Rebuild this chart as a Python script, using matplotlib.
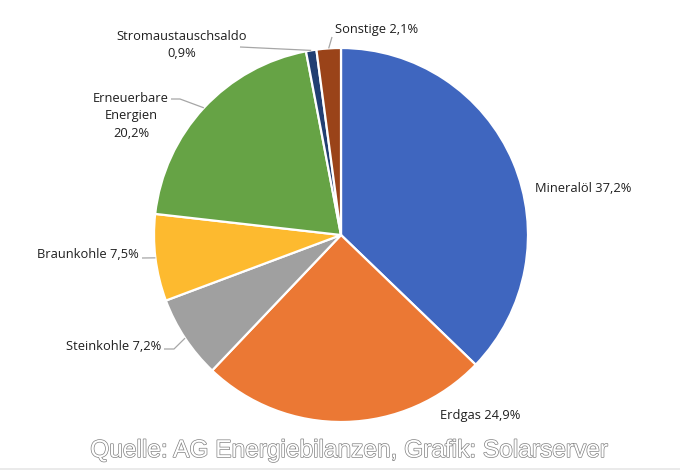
import matplotlib
matplotlib.use("Agg")
import matplotlib.pyplot as plt
import matplotlib.patheffects as pe
import numpy as np

categories = ["Mineralöl", "Erdgas", "Steinkohle", "Braunkohle",
              "Erneuerbare\nEnergien", "Stromaustauschsaldo", "Sonstige"]
values = [37.2, 24.9, 7.2, 7.5, 20.2, 0.9, 2.1]
labels = ["Mineralöl 37,2%", "Erdgas 24,9%", "Steinkohle 7,2%", "Braunkohle 7,5%",
          "Erneuerbare\nEnergien\n20,2%", "Stromaustauschsaldo\n0,9%", "Sonstige 2,1%"]
colors = ["#3F66BF", "#EB7834", "#A0A0A0", "#FDBA2F", "#66A345", "#223F72", "#9A4319"]

W, H = 680, 471
fig = plt.figure(figsize=(W / 100, H / 100), dpi=100)
ax = fig.add_axes([0, 0, 1, 1])

def Y(py):
    return H - py

cx, cy, r = 341, 235, 187
wedges, _ = ax.pie(values, colors=colors, startangle=90, counterclock=False,
                   center=(cx, Y(cy)), radius=r, frame=True,
                   wedgeprops=dict(edgecolor="white", linewidth=1.6))
ax.set_xlim(0, W)
ax.set_ylim(0, H)
ax.set_aspect("equal")
ax.axis("off")

font = ["Open Sans", "DejaVu Sans"]
fs = 9.3
tc = "#1f1f1f"
lc = "#A6A6A6"

layout = [
    dict(xy=(535, 189), ha="left", path=None),
    dict(xy=(440, 415), ha="left", path=None),
    dict(xy=(161, 347), ha="right", path=[(174, 349), (164, 349)]),
    dict(xy=(139, 255), ha="right", path=[(142, 258)]),
    dict(xy=(131, 116), ha="center", path=[(180, 99), (171, 99)]),
    dict(xy=(182, 45), ha="center", path=[(240, 47)]),
    dict(xy=(335, 30), ha="left", path=[(332, 37)]),
]

cum = np.cumsum([0] + values)
total = sum(values)
for i, (lab, lay) in enumerate(zip(labels, layout)):
    ax.text(lay["xy"][0], Y(lay["xy"][1]), lab, ha=lay["ha"], va="center",
            fontsize=fs, color=tc, family=font, linespacing=1.45)
    if lay["path"]:
        mid = (cum[i] + cum[i + 1]) / 2 / total
        ang = np.deg2rad(90 - 360 * mid)
        px = cx + r * np.cos(ang)
        py = cy - r * np.sin(ang)
        pts = [(px, py)] + lay["path"]
        ax.plot([p[0] for p in pts], [Y(p[1]) for p in pts], color=lc, lw=0.9,
                solid_capstyle="butt", zorder=1)

ax.text(348, Y(451), "Quelle: AG Energiebilanzen, Grafik: Solarserver",
        ha="center", va="center", fontsize=17.6, color="white",
        family=["Liberation Sans", "DejaVu Sans"],
        path_effects=[pe.Stroke(linewidth=1.0, foreground="#808080"), pe.Normal()])

ax.plot([0, W], [Y(469), Y(469)], color="#E6E6E6", lw=1.2)

fig.savefig("out.png", dpi=100)
